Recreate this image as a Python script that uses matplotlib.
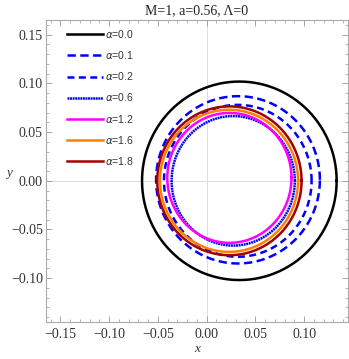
import numpy as np
import matplotlib
matplotlib.use("Agg")
import matplotlib.pyplot as plt
from matplotlib.ticker import MultipleLocator, FuncFormatter

# shadow curves: centre and half-widths
alphas = ["0.0", "0.1", "0.2", "0.6", "1.2", "1.6", "1.8"]
cx = [0.0336, 0.0322, 0.0320, 0.0273, 0.0234, 0.0230, 0.0234]
cy = [0.0, 0.001, 0.0, 0.0, 0.003, 0.0, 0.0]
rx = [0.0998, 0.0840, 0.0757, 0.0632, 0.0637, 0.0708, 0.0740]
ry = [0.1019, 0.0859, 0.0780, 0.0665, 0.0667, 0.0730, 0.0764]

colors = ["black", "#0000ff", "#0000ff", "#0000ff", "#ff00ff", "#ff8000", "#a50000"]
dashes = [None, (6.0, 3.2), (5.0, 3.2), (1.4, 0.45), None, None, None]

plt.rcParams['lines.scale_dashes'] = False
plt.rcParams['font.family'] = ['Liberation Serif', 'DejaVu Serif']

fig = plt.figure(figsize=(3.49, 3.59), dpi=100)
ax = fig.add_axes([0.131, 0.103, 0.866, 0.841])

t = np.linspace(0, 2 * np.pi, 600)
for i in range(len(alphas)):
    x = cx[i] + rx[i] * np.cos(t)
    y = cy[i] + ry[i] * np.sin(t)
    line, = ax.plot(x, y, color=colors[i], lw=1.8, label=r"$\alpha$=" + alphas[i])
    if dashes[i] is not None:
        line.set_dashes(dashes[i])

ax.axhline(0, color="#dddddd", lw=0.7, zorder=0)
ax.axvline(0, color="#dddddd", lw=0.7, zorder=0)

ax.set_xlim(-0.165, 0.145)
ax.set_ylim(-0.145, 0.165)

def fmt(v, pos):
    if abs(v) < 1e-9:
        return "0.00"
    if v < 0:
        return "\u2212" + "%.2f" % abs(v)
    return "%.2f" % v

for a in (ax.xaxis, ax.yaxis):
    a.set_major_locator(MultipleLocator(0.05))
    a.set_minor_locator(MultipleLocator(0.01))
    a.set_major_formatter(FuncFormatter(fmt))

ax.tick_params(which="both", direction="in", top=True, right=True, color="#999999",
               labelsize=10, labelcolor="#333333")
ax.tick_params(which="major", length=4, width=0.6)
ax.tick_params(which="minor", length=2, width=0.5)
ax.tick_params(axis="x", pad=4)
ax.tick_params(axis="y", pad=2)
for s in ax.spines.values():
    s.set_color("#aaaaaa")
    s.set_linewidth(0.8)

ax.set_xlabel("x", fontstyle="italic", fontsize=9.5, color="#333333", labelpad=2)
ax.set_ylabel("y", fontstyle="italic", fontsize=9.5, color="#333333", rotation=0)
ax.yaxis.set_label_coords(-0.12, 0.475)
ax.set_title("M=1, a=0.56, \u039b=0", fontsize=10, color="#222222", pad=4)

leg = ax.legend(loc="upper left", bbox_to_anchor=(0.04, 1.005), frameon=False,
                handlelength=3.4, handletextpad=0.25, labelspacing=0.88,
                prop={"family": "Liberation Sans", "size": 7.5})
for txt in leg.get_texts():
    txt.set_color("#333333")

fig.savefig("out.png", dpi=100)
